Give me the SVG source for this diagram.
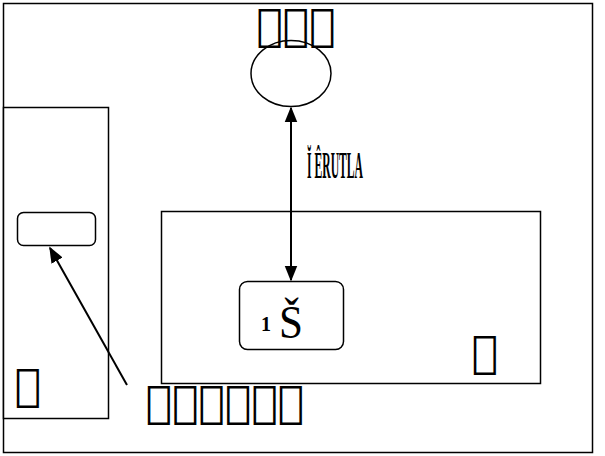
<svg xmlns="http://www.w3.org/2000/svg" width="605" height="456" viewBox="0 0 605 456">
<style>
.box{fill:#fff;stroke:#000;stroke-width:1.5}
.edge{fill:none;stroke:#000;stroke-width:2}
.t{font-family:"DejaVu Sans",sans-serif;font-size:44px;fill:#000}
.s{font-family:"Liberation Serif",serif;fill:#000}
</style>
<defs>
<marker id="ah2" viewBox="0 0 10 10" refX="9" refY="5" markerWidth="16" markerHeight="16" markerUnits="userSpaceOnUse" orient="auto-start-reverse">
<path d="M0,1 L10,5 L0,9 z" fill="#000"/>
</marker>
</defs>
<rect x="0" y="0" width="605" height="456" fill="#fff"/>
<g id="frame"><rect class="box" x="3.5" y="3.5" width="589" height="449"/></g>
<g id="left-cluster">
<rect class="box" x="3.5" y="107.5" width="105" height="311"/>
<text class="t" x="28" y="400" text-anchor="middle">&#x104E3A;</text>
</g>
<g id="left-node"><rect class="box" x="17.5" y="212.5" width="78" height="33" rx="6"/></g>
<g id="right-cluster">
<rect class="box" x="161.5" y="211.5" width="379" height="172"/>
<text class="t" x="485" y="367" text-anchor="middle">&#x104E3A;</text>
</g>
<g id="center-node">
<rect class="box" x="239.5" y="281.5" width="104" height="68" rx="8"/>
<text class="s" x="261" y="331" font-size="20" font-weight="bold">1</text>
<text class="s" x="279" y="338" font-size="46" textLength="24" lengthAdjust="spacingAndGlyphs">Š</text>
</g>
<g id="top-node">
<ellipse class="box" cx="291" cy="73.5" rx="40" ry="33"/>
<text class="t" x="296" y="40" text-anchor="middle">&#x106FAB;&#x108113;&#x106705;</text>
</g>
<g id="connectors">
<line class="edge" x1="291" y1="108" x2="291" y2="280" marker-start="url(#ah2)" marker-end="url(#ah2)"/>
<line class="edge" x1="127" y1="385" x2="50" y2="248" marker-end="url(#ah2)"/>
<text class="s" x="307" y="178" font-size="38" font-weight="bold" textLength="56" lengthAdjust="spacingAndGlyphs">Ĭ ÊRUTLA</text>
<text class="t" x="225" y="417" text-anchor="middle">&#x1017D3;&#x1017C7;&#x1017AA;&#x1017AB;&#x1017E3;&#x1017E9;</text>
</g>
</svg>
